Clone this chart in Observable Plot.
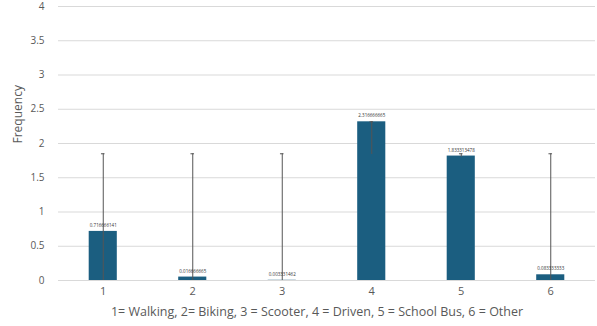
<!DOCTYPE html>
<html><head><meta charset="utf-8">
<script src="https://cdn.jsdelivr.net/npm/d3@7"></script>
<script src="https://cdn.jsdelivr.net/npm/@observablehq/plot@0.6"></script>
<style>body{margin:0;background:#fff}</style>
</head><body><div id="chart"></div>
<script>
const categories = [1, 2, 3, 4, 5, 6];
const values = [0.716666667, 0.05, 0.003333333, 2.316666667, 1.816666667, 0.083333333];
const labels = ["0.716666141", "0.016666665", "0.003331462", "2.316666665", "1.833313478", "0.083333333"];
const errLow = [0, 0, 0, 1.84, 1.80, 0];
const errHigh = [1.85, 1.85, 1.85, 2.316666667, 1.85, 1.85];
const yTicks = [0, 0.5, 1, 1.5, 2, 2.5, 3, 3.5, 4];
const xTitle = "1= Walking, 2= Biking, 3 = Scooter, 4 = Driven, 5 = School Bus, 6 = Other";
const yTitle = "Frequency";

const data = categories.map((c, i) => ({c, v: values[i], label: labels[i], lo: errLow[i], hi: errHigh[i]}));
const halfW = 0.157, capW = 0.02;
const grey = "#595959";

const chart = Plot.plot({
  width: 597, height: 326,
  marginTop: 6, marginBottom: 46, marginLeft: 58, marginRight: 2,
  style: {fontFamily: "'Open Sans', sans-serif", color: grey, background: "#fff"},
  x: {type: "linear", domain: [0.5, 6.5], axis: null},
  y: {domain: [0, 4], axis: null},
  marks: [
    Plot.ruleY(yTicks, {stroke: "#d9d9d9", strokeWidth: 1}),
    Plot.axisY(yTicks, {tickSize: 0, tickPadding: 14, tickFormat: d => String(d), fontSize: 10, fill: grey, label: null}),
    Plot.text([yTitle], {frameAnchor: "left", dx: -40, rotate: -90, fontSize: 12, fill: grey}),
    Plot.axisX(categories, {tickSize: 0, tickPadding: 7, tickFormat: d => String(d), fontSize: 11, fill: grey, label: null}),
    Plot.text([xTitle], {frameAnchor: "bottom", dy: 35, dx: -10, fontSize: 12.5, fill: grey}),
    Plot.rectY(data, {x1: d => d.c - halfW, x2: d => d.c + halfW, y1: 0, y2: "v", fill: "#1b5e80"}),
    Plot.ruleX(data, {x: "c", y1: "lo", y2: "hi", stroke: "#555", strokeWidth: 1}),
    Plot.ruleY(data, {y: "hi", x1: d => d.c - capW, x2: d => d.c + capW, stroke: "#555", strokeWidth: 1}),
    Plot.text(data, {x: "c", y: "v", text: "label", dy: -6, fontSize: 4.5, fill: "#333"})
  ]
});
document.getElementById("chart").append(chart);
</script>
</body></html>
